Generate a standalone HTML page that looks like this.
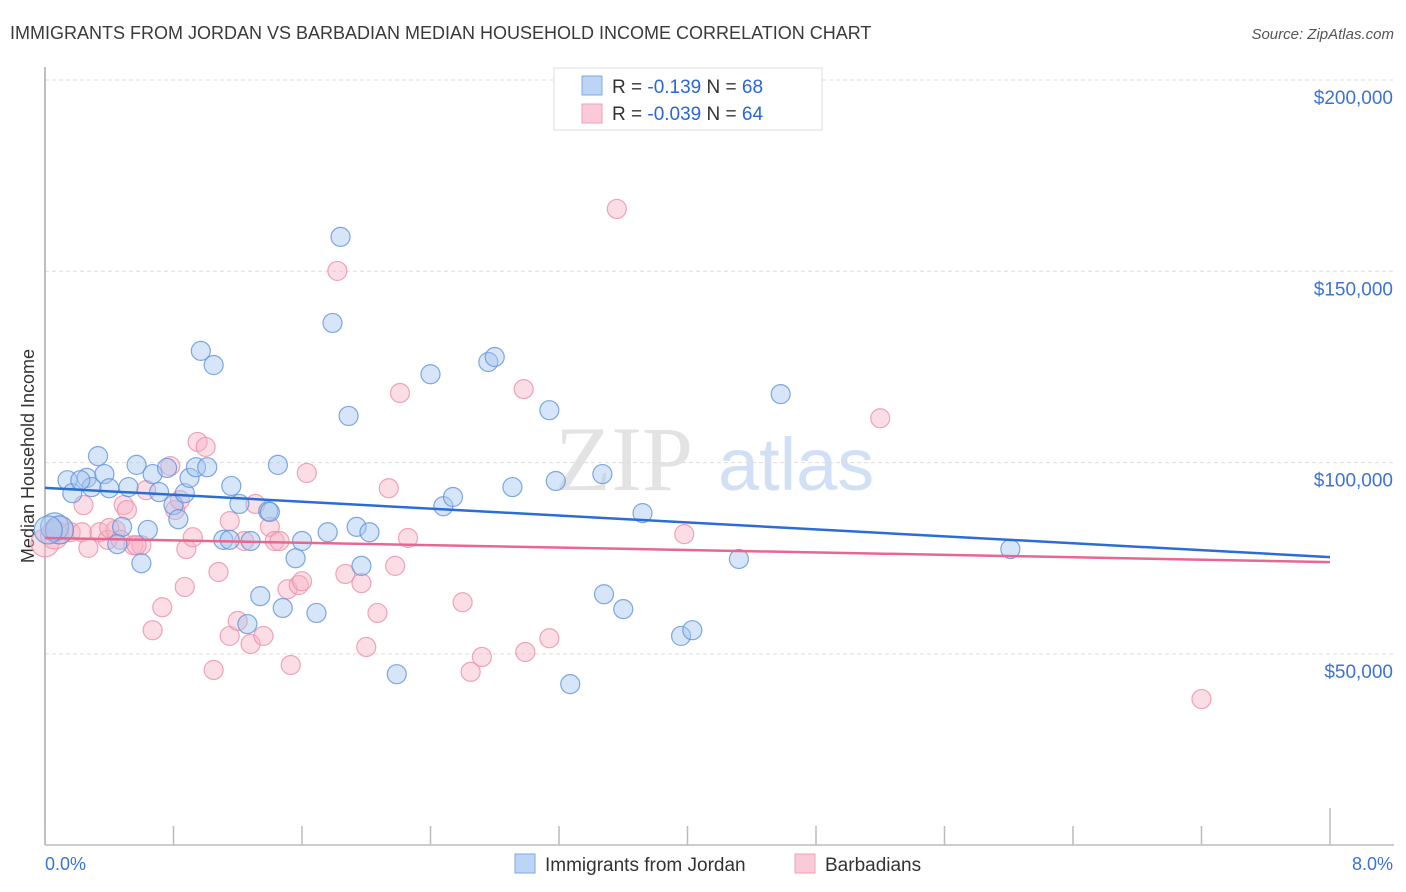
<!DOCTYPE html>
<html><head><meta charset="utf-8"><style>
body{margin:0;background:#fff;font-family:"Liberation Sans",sans-serif}
svg{display:block}
</style></head><body>
<svg id="chart" width="1406" height="892" xmlns="http://www.w3.org/2000/svg">
<text x="10" y="39" font-size="18" fill="#3a3a3a">IMMIGRANTS FROM JORDAN VS BARBADIAN MEDIAN HOUSEHOLD INCOME CORRELATION CHART</text>
<text x="1394" y="39" font-size="15" fill="#555" font-style="italic" text-anchor="end">Source: ZipAtlas.com</text>
<g>
<text x="555" y="490" font-size="92" font-family="Liberation Serif,serif" fill="#d8d8d8" opacity="0.7">ZIP</text>
<text x="718" y="490" font-size="74" fill="#b5cdef" opacity="0.6">atlas</text>
</g>
<g id="grid"></g>
<line x1="45" y1="67" x2="45" y2="845" stroke="#aaa" stroke-width="1.5"/>
<line x1="45" y1="845" x2="1394" y2="845" stroke="#bbb" stroke-width="1.5"/>
<g id="xticks"></g>
<text x="45" y="870" font-size="18" fill="#3b73d4">0.0%</text>
<text x="1393" y="870" font-size="18" fill="#3b73d4" text-anchor="end">8.0%</text>
<text transform="translate(34,456) rotate(-90)" font-size="18" fill="#333" text-anchor="middle">Median Household Income</text>
<g id="pts-pink"></g>
<g id="pts-blue"></g>
<g id="trends"></g>
<g>
<rect x="554" y="68" width="268" height="62" fill="#fff" stroke="#ddd"/>
<rect x="582" y="76" width="20" height="19" fill="#bcd4f6" stroke="#7ea8e0"/>
<rect x="582" y="104" width="20" height="19" fill="#fbc9d7" stroke="#f0a0b8"/>
<text x="612" y="93" font-size="19" fill="#333">R = <tspan fill="#2a66d4">-0.139</tspan>   N = <tspan fill="#2a66d4">68</tspan></text>
<text x="612" y="120" font-size="19" fill="#333">R = <tspan fill="#2a66d4">-0.039</tspan>   N = <tspan fill="#2a66d4">64</tspan></text>
</g>
<g>
<rect x="515" y="854" width="20" height="19" fill="#bcd4f6" stroke="#7ea8e0"/>
<text x="545" y="871" font-size="19" fill="#333">Immigrants from Jordan</text>
<rect x="795" y="854" width="20" height="19" fill="#fbc9d7" stroke="#f0a0b8"/>
<text x="825" y="871" font-size="19" fill="#333">Barbadians</text>
</g>
</svg>
<script>
const yTicks=[50000,100000,150000,200000];
const yTickLabels=["$50,000","$100,000","$150,000","$200,000"];
const xTickValues=[0,0.8,1.6,2.4,3.2,4.0,4.8,5.6,6.4,7.2,8.0];
const blueX=[.06,.09,.14,.17,.26,.29,.33,.37,.40,.52,.48,.57,.60,.64,.67,.71,.76,.80,.83,.87,.90,.94,.97,1.01,1.05,1.11,1.16,1.21,1.26,1.28,1.34,1.39,1.40,1.45,1.48,1.56,1.60,1.69,1.76,1.79,1.84,1.89,1.94,1.97,2.02,2.19,2.40,2.48,2.54,2.76,2.80,2.91,3.14,3.18,3.27,3.47,3.48,3.60,3.72,3.96,4.03,4.32,4.58,6.01,1.15,.45,.22,.02];
const blueY=[83.2,82.4,95.4,92.0,96.0,93.6,101.7,97.0,93.3,93.6,83.2,99.4,73.7,82.4,97.0,92.3,98.6,88.9,85.2,92.0,96.0,98.8,129.2,98.8,125.5,79.8,93.9,89.2,57.8,79.5,65.1,87.3,87.1,99.4,62.0,75.0,79.5,60.7,81.8,136.5,159.0,112.2,83.2,73.0,81.8,44.7,123.1,88.6,91.0,126.3,127.6,93.6,113.7,95.2,42.1,97.0,65.6,61.7,86.8,54.7,56.2,74.8,117.9,77.4,79.8,78.7,95.4,82.4];
const pinkX=[0,.06,.09,.16,.23,.27,.24,.34,.39,.44,.49,.51,.55,.60,.63,.67,.73,.78,.81,.84,.87,.88,.92,.95,1.00,1.05,1.08,1.15,1.15,1.20,1.24,1.28,1.31,1.36,1.40,1.43,1.46,1.53,1.51,1.58,1.60,1.63,1.82,1.87,1.97,2.00,2.07,2.14,2.18,2.21,2.26,2.60,2.65,2.72,2.98,2.99,3.14,3.56,3.98,5.20,7.20,.40,.57,.47];
const pinkY=[79.0,81.1,82.4,81.8,81.8,77.7,88.9,81.8,79.8,82.4,88.9,87.6,78.4,78.4,92.8,56.2,62.2,99.1,87.6,90.2,67.5,77.4,80.5,105.4,104.1,45.8,71.4,84.7,54.7,58.6,79.5,52.6,89.2,54.7,83.2,79.5,79.5,47.1,66.9,68.0,69.0,97.3,150.1,70.9,68.5,51.8,60.7,93.3,73.0,118.2,80.3,63.5,45.3,49.2,119.2,50.5,54.1,166.3,81.3,111.6,38.2,82.9,78.4,79.8];
const blueTrend=[93400,75300];
const pinkTrend=[80300,74000];
const NS="http://www.w3.org/2000/svg";
const xS=v=>45+v/8*1285;
const yS=v=>80+(200000-v)*191.3/50000;
function mk(t,a,p){const e=document.createElementNS(NS,t);for(const k in a)e.setAttribute(k,a[k]);p.appendChild(e);return e;}
const grid=document.getElementById('grid');
yTicks.forEach((v,i)=>{
 const l=mk('line',{x1:45,x2:1394,y1:yS(v),y2:yS(v),stroke:'#ddd','stroke-dasharray':'4,3'},grid);
 
 
 const t=mk('text',{x:1393,y:yS(v)+24,'font-size':19,fill:'#3b73d4','text-anchor':'end'},grid);
 t.textContent=yTickLabels[i];
 
 
});
const xt=document.getElementById('xticks');
xTickValues.forEach((v,i)=>{
 const l=mk('line',{x1:xS(v),x2:xS(v),y1:(i==10?808:826),y2:845,stroke:'#bbb','stroke-width':1.5},xt);
 
 
});
function pts(X,Y,g,fill,stroke,name){
 const G=document.getElementById(g);
 X.forEach((x,i)=>{
  const r=(x<0.1)?14:9.5;
  const c=mk('circle',{cx:xS(x),cy:yS(Y[i]*1000),r:r,fill:fill,'fill-opacity':0.45,stroke:stroke,'stroke-width':1.2,'stroke-opacity':0.8},G);
  
  
 });
}
pts(pinkX,pinkY,'pts-pink','#f7b3c6','#ec8eaa','barbadian-point');
pts(blueX,blueY,'pts-blue','#a6c6f0','#5f93d9','jordan-point');
const tr=document.getElementById('trends');
const b=mk('line',{x1:xS(0),x2:xS(8),y1:yS(blueTrend[0]),y2:yS(blueTrend[1]),stroke:'#2a6dd6','stroke-width':2.5},tr);


const p=mk('line',{x1:xS(0),x2:xS(8),y1:yS(pinkTrend[0]),y2:yS(pinkTrend[1]),stroke:'#e86690','stroke-width':2.5},tr);


</script>
</body></html>
